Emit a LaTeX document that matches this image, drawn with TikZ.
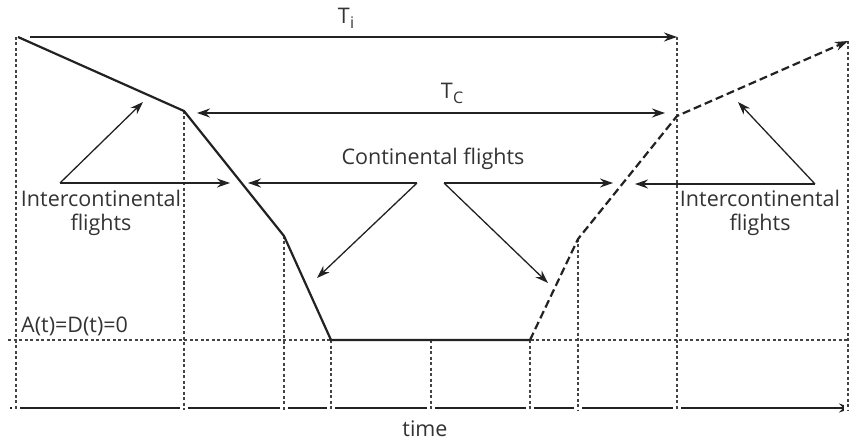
\documentclass[tikz,border=0pt]{standalone}
\usepackage{fontspec}
\setmainfont{Open Sans}
\usetikzlibrary{arrows.meta}
\definecolor{ink}{HTML}{222222}
\definecolor{txt}{HTML}{333333}
\definecolor{guidegray}{HTML}{444444}
\begin{document}
\begin{tikzpicture}[x=1pt,y=-1pt,
  curve/.style={line width=2.2pt, draw=ink, line join=miter},
  dashedcurve/.style={curve, dash pattern=on 8pt off 4pt},
  guide/.style={line width=1.2pt, draw=guidegray, dash pattern=on 3pt off 2.5pt},
  tip/.style={-{Stealth[length=13pt,width=9pt]}},
  pointer/.style={line width=1.3pt, draw=ink, tip},
  lbl/.style={font=\fontsize{21.5}{24}\selectfont, text=txt, inner sep=0pt, align=center}]
\useasboundingbox (0,0) rectangle (850,443);
% curve points
\coordinate (p0) at (18,37);
\coordinate (p1) at (184,111);
\coordinate (p2) at (284,236);
\coordinate (p3) at (331,340);
\coordinate (p4) at (530,340);
\coordinate (p5) at (578,239);
\coordinate (p6) at (677,116);
\coordinate (p7) at (848,41);
\coordinate (tiL) at (30,37);
\coordinate (tiR) at (677,37);
\coordinate (mid) at (431,340);
\coordinate (hl) at (8,340);
\coordinate (hr) at (850,340);
\coordinate (axL) at (10,408);
\coordinate (axR) at (852,408);
% axis
\draw[line width=2pt, draw=ink, tip] (axL) -- (axR);
\foreach \x in {16,184,284,331,431,530,578,677,848}{
  \fill[white] (\x-4,404) rectangle (\x+4,412);
}
% guides
\draw[guide] (hl) -- (hr);
\draw[guide] (16,37) -- (16,410);
\draw[guide] (p1) -- (184,410);
\draw[guide] (p2) -- (284,410);
\draw[guide] (p3) -- (331,410);
\draw[guide] (mid) -- (431,410);
\draw[guide] (p4) -- (530,410);
\draw[guide] (p5) -- (578,410);
\draw[guide] (tiR) -- (677,410);
\draw[guide] (p7) -- (848,410);
% curves
\draw[curve] (p0) -- (p1) -- (p2) -- (p3) -- (p4);
\draw[dashedcurve, tip] (p4) -- (p5) -- (p6) -- (p7);
% durations
\draw[line width=2pt, draw=ink, tip] (tiL) -- (tiR);
\coordinate (tcL) at (197,113);
\coordinate (tcR) at (665,113);
\draw[line width=2pt, draw=ink, {Stealth[length=13pt,width=9pt]}-{Stealth[length=13pt,width=9pt]}] (tcL) -- (tcR);
\node[lbl, anchor=base] (ti) at (346,24) {T\kern0.5pt\raisebox{-5pt}{\fontsize{16}{16}\selectfont i}};
\node[lbl, anchor=base] (tc) at (452,99) {T\kern0.5pt\raisebox{-5pt}{\fontsize{16}{16}\selectfont C}};
% labels
\node[lbl] (icl) at (101,213) {Intercontinental\\flights};
\node[lbl] (icr) at (760,213) {Intercontinental\\flights};
\node[lbl, anchor=base] (cf) at (433,165) {Continental flights};
\node[lbl, anchor=base west] (zero) at (21,332) {A(t)=D(t)=0};
\node[lbl, anchor=base] (time) at (425,436) {time};
% pointers
\coordinate (la) at (60,183);
\coordinate (la1) at (143,102);
\coordinate (la2) at (230,183);
\draw[pointer] (la) -- (la1);
\draw[pointer] (la) -- (la2);
\coordinate (ra) at (815,184);
\coordinate (ra1) at (738,102);
\coordinate (ra2) at (635,184);
\draw[pointer] (ra) -- (ra1);
\draw[pointer] (ra) -- (ra2);
\coordinate (ca) at (417,183);
\coordinate (ca1) at (248,183);
\coordinate (ca2) at (317,278);
\draw[pointer] (ca) -- (ca1);
\draw[pointer] (ca) -- (ca2);
\coordinate (cb) at (444,183);
\coordinate (cb1) at (613,183);
\coordinate (cb2) at (548,283);
\draw[pointer] (cb) -- (cb1);
\draw[pointer] (cb) -- (cb2);
\end{tikzpicture}
\end{document}
